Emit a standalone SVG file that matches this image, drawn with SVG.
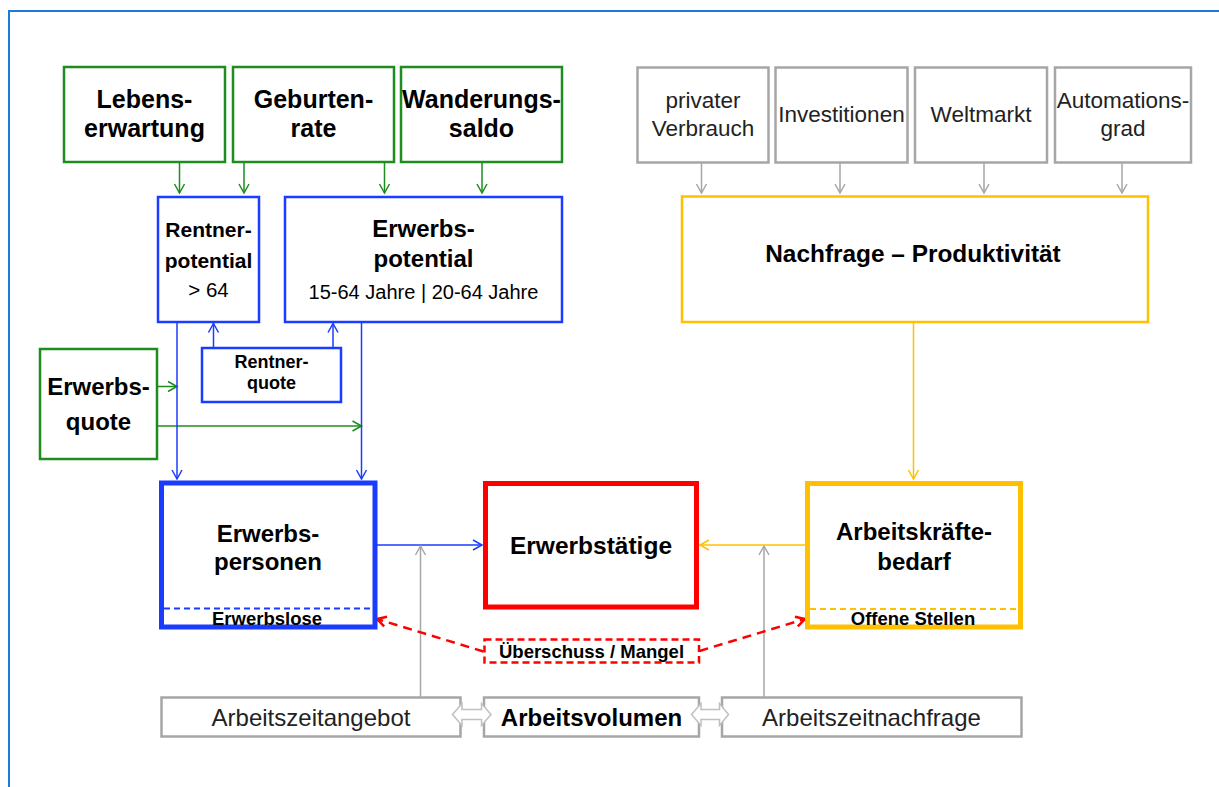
<svg xmlns="http://www.w3.org/2000/svg" width="1219" height="787" viewBox="0 0 1219 787">
<style>
text{font-family:"Liberation Sans",Arial,sans-serif;text-anchor:middle;fill:#000}
.b{font-weight:bold}
.g24{font-size:24px;font-weight:bold}
.g25{font-size:25px;font-weight:bold}
.r22{font-size:22.5px;fill:#222}
.r24{font-size:24px;fill:#222}
.gbox{fill:#fff;stroke:#1e8c1e;stroke-width:2.5}
.bbox{fill:#fff;stroke:#1a3cff;stroke-width:2.5}
.gr{fill:#fff;stroke:#a6a6a6;stroke-width:2.5}
.lg{stroke:#1e8c1e;stroke-width:1.5;fill:none}
.lb{stroke:#1a3cff;stroke-width:1.5;fill:none}
.lgr{stroke:#a6a6a6;stroke-width:1.5;fill:none}
.lo{stroke:#ffc000;stroke-width:1.5;fill:none}
.lr{stroke:#ff0000;stroke-width:2.5;fill:none;stroke-dasharray:9,6}
</style>
<defs>
<marker id="mg" viewBox="-11 -7 13 14" refX="0" refY="0" markerWidth="13" markerHeight="14" markerUnits="userSpaceOnUse" orient="auto"><path d="M-9,-5 L0,0 L-9,5" fill="none" stroke="#1e8c1e" stroke-width="1.5"/></marker>
<marker id="mb" viewBox="-11 -7 13 14" refX="0" refY="0" markerWidth="13" markerHeight="14" markerUnits="userSpaceOnUse" orient="auto"><path d="M-9,-5 L0,0 L-9,5" fill="none" stroke="#1a3cff" stroke-width="1.5"/></marker>
<marker id="mgr" viewBox="-11 -7 13 14" refX="0" refY="0" markerWidth="13" markerHeight="14" markerUnits="userSpaceOnUse" orient="auto"><path d="M-9,-5 L0,0 L-9,5" fill="none" stroke="#a6a6a6" stroke-width="1.5"/></marker>
<marker id="mo" viewBox="-11 -7 13 14" refX="0" refY="0" markerWidth="13" markerHeight="14" markerUnits="userSpaceOnUse" orient="auto"><path d="M-9,-5 L0,0 L-9,5" fill="none" stroke="#ffc000" stroke-width="1.5"/></marker>
<marker id="mr" viewBox="-11 -7 13 14" refX="0" refY="0" markerWidth="13" markerHeight="14" markerUnits="userSpaceOnUse" orient="auto"><path d="M-9,-5 L0,0 L-9,5" fill="none" stroke="#ff0000" stroke-width="2.5"/></marker>
</defs>
<rect x="0" y="0" width="1219" height="787" fill="#fff"/>
<path d="M9,787 L9,11 L1219,11" fill="none" stroke="#1c7cd5" stroke-width="2"/>

<g id="connectors">
<line class="lg" x1="179.5" y1="163" x2="179.5" y2="193" marker-end="url(#mg)"/>
<line class="lg" x1="244" y1="163" x2="244" y2="193" marker-end="url(#mg)"/>
<line class="lg" x1="384.5" y1="163" x2="384.5" y2="193" marker-end="url(#mg)"/>
<line class="lg" x1="482" y1="163" x2="482" y2="193" marker-end="url(#mg)"/>
<line class="lg" x1="158" y1="386.5" x2="177" y2="386.5" marker-end="url(#mg)"/>
<line class="lg" x1="158" y1="426" x2="361.5" y2="426" marker-end="url(#mg)"/>
<line class="lb" x1="177" y1="322" x2="177" y2="479" marker-end="url(#mb)"/>
<line class="lb" x1="361.5" y1="322" x2="361.5" y2="479" marker-end="url(#mb)"/>
<line class="lb" x1="213.5" y1="347" x2="213.5" y2="323.5" marker-end="url(#mb)"/>
<line class="lb" x1="333" y1="347" x2="333" y2="323.5" marker-end="url(#mb)"/>
<line class="lb" x1="377" y1="545" x2="482" y2="545" marker-end="url(#mb)"/>
<line class="lgr" x1="701.5" y1="163" x2="701.5" y2="193" marker-end="url(#mgr)"/>
<line class="lgr" x1="840" y1="163" x2="840" y2="193" marker-end="url(#mgr)"/>
<line class="lgr" x1="984" y1="163" x2="984" y2="193" marker-end="url(#mgr)"/>
<line class="lgr" x1="1122" y1="163" x2="1122" y2="193" marker-end="url(#mgr)"/>
<line class="lgr" x1="420.5" y1="697" x2="420.5" y2="546" marker-end="url(#mgr)"/>
<line class="lgr" x1="764" y1="697" x2="764" y2="546" marker-end="url(#mgr)"/>
<line class="lo" x1="913.5" y1="322" x2="913.5" y2="479" marker-end="url(#mo)"/>
<line class="lo" x1="805" y1="545" x2="700" y2="545" marker-end="url(#mo)"/>
<line class="lr" x1="483.5" y1="651.5" x2="377" y2="619" marker-end="url(#mr)"/>
<line class="lr" x1="699.5" y1="651" x2="805" y2="619" marker-end="url(#mr)"/>
</g>

<g id="lebenserwartung"><rect class="gbox" x="64" y="67" width="161" height="95"/><text class="g25" x="144.5" y="108">Lebens-</text><text class="g25" x="144.5" y="137">erwartung</text></g>
<g id="geburtenrate"><rect class="gbox" x="233" y="67" width="161" height="95"/><text class="g25" x="313.5" y="108">Geburten-</text><text class="g25" x="313.5" y="137">rate</text></g>
<g id="wanderungssaldo"><rect class="gbox" x="401" y="67" width="161" height="95"/><text class="g25" x="481.5" y="108">Wanderungs-</text><text class="g25" x="481.5" y="137">saldo</text></g>

<g id="rentnerpotential"><rect class="bbox" x="158" y="197" width="101" height="125"/><text class="b" style="font-size:21px" x="208.5" y="237">Rentner-</text><text class="b" style="font-size:21px" x="208.5" y="268">potential</text><text style="font-size:20.5px" x="208.5" y="297">&gt; 64</text></g>
<g id="erwerbspotential"><rect class="bbox" x="285" y="197" width="277" height="125"/><text class="g24" x="423.5" y="237">Erwerbs-</text><text class="g24" x="423.5" y="267">potential</text><text style="font-size:20px" x="423.5" y="299">15-64 Jahre | 20-64 Jahre</text></g>
<g id="rentnerquote"><rect class="bbox" x="202" y="348" width="139" height="54"/><text class="b" style="font-size:18px" x="271.5" y="368">Rentner-</text><text class="b" style="font-size:18px" x="271.5" y="389">quote</text></g>
<g id="erwerbsquote"><rect class="gbox" x="40" y="349" width="117" height="110"/><text class="g24" x="98.5" y="395">Erwerbs-</text><text class="g24" x="98.5" y="430">quote</text></g>

<g id="privater-verbrauch"><rect class="gr" x="637.5" y="67.5" width="131" height="95"/><text class="r22" x="703" y="108">privater</text><text class="r22" x="703" y="136">Verbrauch</text></g>
<g id="investitionen"><rect class="gr" x="775.5" y="67.5" width="132" height="95"/><text class="r22" x="841.5" y="122">Investitionen</text></g>
<g id="weltmarkt"><rect class="gr" x="915" y="67.5" width="132" height="95"/><text class="r22" x="981" y="122">Weltmarkt</text></g>
<g id="automationsgrad"><rect class="gr" x="1055" y="67.5" width="136" height="95"/><text class="r22" x="1123" y="108">Automations-</text><text class="r22" x="1123" y="136">grad</text></g>

<g id="nachfrage"><rect x="682" y="196.5" width="466" height="125.5" fill="#fff" stroke="#ffc000" stroke-width="2.5"/><text class="g24" x="913" y="262" style="font-size:24.4px">Nachfrage – Produktivität</text></g>

<g id="erwerbspersonen"><rect x="161.5" y="483" width="213.5" height="144" fill="#fff" stroke="#1a3cff" stroke-width="5"/><line x1="164" y1="608.5" x2="373" y2="608.5" stroke="#1a3cff" stroke-width="2" stroke-dasharray="6,4"/><text class="g24" x="268" y="542">Erwerbs-</text><text class="g24" x="268" y="570">personen</text><text class="b" style="font-size:18.5px" x="267" y="625">Erwerbslose</text></g>

<g id="erwerbstaetige"><rect x="485.5" y="483.5" width="211" height="123.5" fill="#fff" stroke="#ff0000" stroke-width="5"/><text class="g24" x="591" y="553.5" style="font-size:24.5px">Erwerbstätige</text></g>

<g id="arbeitskraeftebedarf"><rect x="807.5" y="483.5" width="213" height="143.5" fill="#fff" stroke="#ffc000" stroke-width="5"/><line x1="810" y1="609" x2="1018" y2="609" stroke="#ffc000" stroke-width="2" stroke-dasharray="6,4"/><text class="g24" x="914" y="540">Arbeitskräfte-</text><text class="g24" x="914" y="569.5">bedarf</text><text class="b" style="font-size:18.5px" x="913" y="625">Offene Stellen</text></g>

<g id="ueberschuss-mangel"><rect x="484.5" y="639.5" width="214.5" height="23" fill="#fff" stroke="#ff0000" stroke-width="2.5" stroke-dasharray="7,4"/><text class="b" style="font-size:18.5px" x="591.5" y="657.5">Überschuss / Mangel</text></g>

<g id="arbeitszeitangebot"><rect class="gr" x="161.5" y="697.5" width="299" height="39"/><text class="r24" x="311" y="725.5">Arbeitszeitangebot</text></g>
<g id="arbeitsvolumen"><rect class="gr" x="484" y="697.5" width="215" height="39"/><text class="g24" x="591.5" y="725.5">Arbeitsvolumen</text></g>
<g id="arbeitszeitnachfrage"><rect class="gr" x="722" y="697.5" width="299.5" height="39"/><text class="r24" x="871.5" y="725.5">Arbeitszeitnachfrage</text></g>

<g id="double-arrows">
<path d="M452.5,714.5 L462,703.5 L462,709.5 L481.5,709.5 L481.5,703.5 L491,714.5 L481.5,725.5 L481.5,719.5 L462,719.5 L462,725.5 Z" fill="#fff" stroke="#c0c0c0" stroke-width="1.5"/>
<path d="M691.5,714.5 L701,703.5 L701,709.5 L719.5,709.5 L719.5,703.5 L728.5,714.5 L719.5,725.5 L719.5,719.5 L701,719.5 L701,725.5 Z" fill="#fff" stroke="#c0c0c0" stroke-width="1.5"/>
</g>
</svg>
